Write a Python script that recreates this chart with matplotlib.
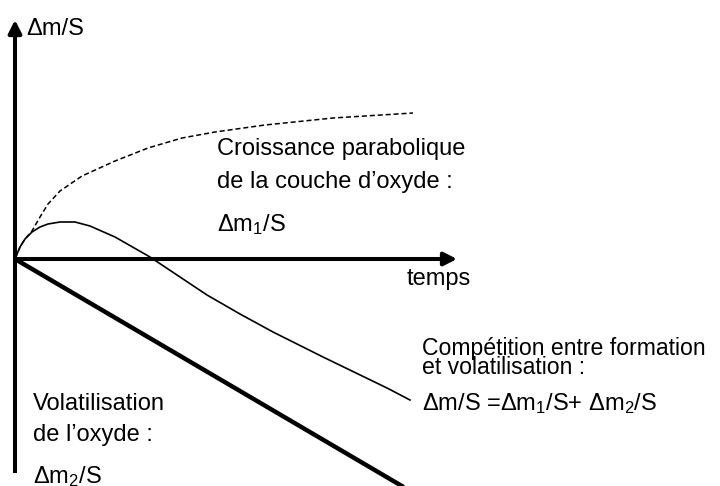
import matplotlib
matplotlib.use("Agg")
import matplotlib.pyplot as plt

plt.rcParams['font.family'] = ['Liberation Sans', 'DejaVu Sans']
plt.rcParams['mathtext.default'] = 'regular'

# --- data (schematic, time units vs mass-change units) ---
# parabolic growth of the oxide layer (dashed)
t_growth = [0, 5, 10, 17, 25, 33, 45, 67, 100, 133, 167, 200, 250, 318, 398]
m_growth = [0, 12, 20, 28, 42, 55, 68, 83, 98, 111, 121, 127, 134, 141, 146]

# competition between formation and volatilisation (thin solid)
t_total = [0, 5, 10, 17, 25, 33, 45, 60, 75, 100, 135, 165, 192, 225, 258, 308, 372, 395]
m_total = [0, 12, 20, 27, 32, 35, 37, 37, 33, 22, 2, -18, -36, -55, -73, -98, -129, -141]

# volatilisation of the oxide (thick straight)
t_vol = [0, 392]
m_vol = [0, -230]

# axis extents
x_axis_end = 442
y_axis_top = 239
y_axis_bottom = -214

labels = {
    'ylabel': 'Δm/S',
    'xlabel': 'temps',
    'growth': ['Croissance parabolique', 'de la couche d’oxyde :', 'Δm$_1$/S'],
    'total': ['Compétition entre formation', 'et volatilisation :', 'Δm/S =Δm$_1$/S+ Δm$_2$/S'],
    'vol': ['Volatilisation', 'de l’oxyde :', 'Δm$_2$/S'],
}

fig = plt.figure(figsize=(7.2, 4.86), dpi=100)
ax = fig.add_axes([0, 0, 1, 1])
ax.set_xlim(-15, 705)
ax.set_ylim(-227, 259)
ax.axis('off')

# axes with arrows
ax.plot([0, 0], [y_axis_bottom, 0], color='black', lw=2.9, solid_capstyle='butt')
ax.annotate('', xy=(0, y_axis_top), xytext=(0, 0),
            arrowprops=dict(arrowstyle='-|>,head_length=0.55,head_width=0.28',
                            mutation_scale=14, lw=2.9, color='black',
                            shrinkA=0, shrinkB=0))
ax.annotate('', xy=(x_axis_end, 0), xytext=(0, 0),
            arrowprops=dict(arrowstyle='-|>,head_length=0.55,head_width=0.28',
                            mutation_scale=14, lw=2.9, color='black',
                            shrinkA=0, shrinkB=0))

# curves
ax.plot(t_growth, m_growth, color='black', lw=1.1, dashes=(3.3, 1.9))
ax.plot(t_total, m_total, color='black', lw=1.2)
ax.plot(t_vol, m_vol, color='black', lw=3.2, solid_capstyle='butt')

fs = 17.0
ax.text(11, 224, labels['ylabel'], fontsize=fs, va='baseline', ha='left')
ax.text(392, -26, labels['xlabel'], fontsize=fs, va='baseline', ha='left')

for s, yb in zip(labels['growth'], [104, 71, 28]):
    ax.text(202, yb, s, fontsize=fs, va='baseline', ha='left')

for s, yb, f in zip(labels['total'], [-96, -115, -151], [16.6, 16.6, fs]):
    ax.text(407, yb, s, fontsize=f, va='baseline', ha='left')

for s, yb in zip(labels['vol'], [-151, -182, -224]):
    ax.text(18, yb, s, fontsize=fs, va='baseline', ha='left')

fig.savefig('out.png', dpi=100, facecolor='white')
